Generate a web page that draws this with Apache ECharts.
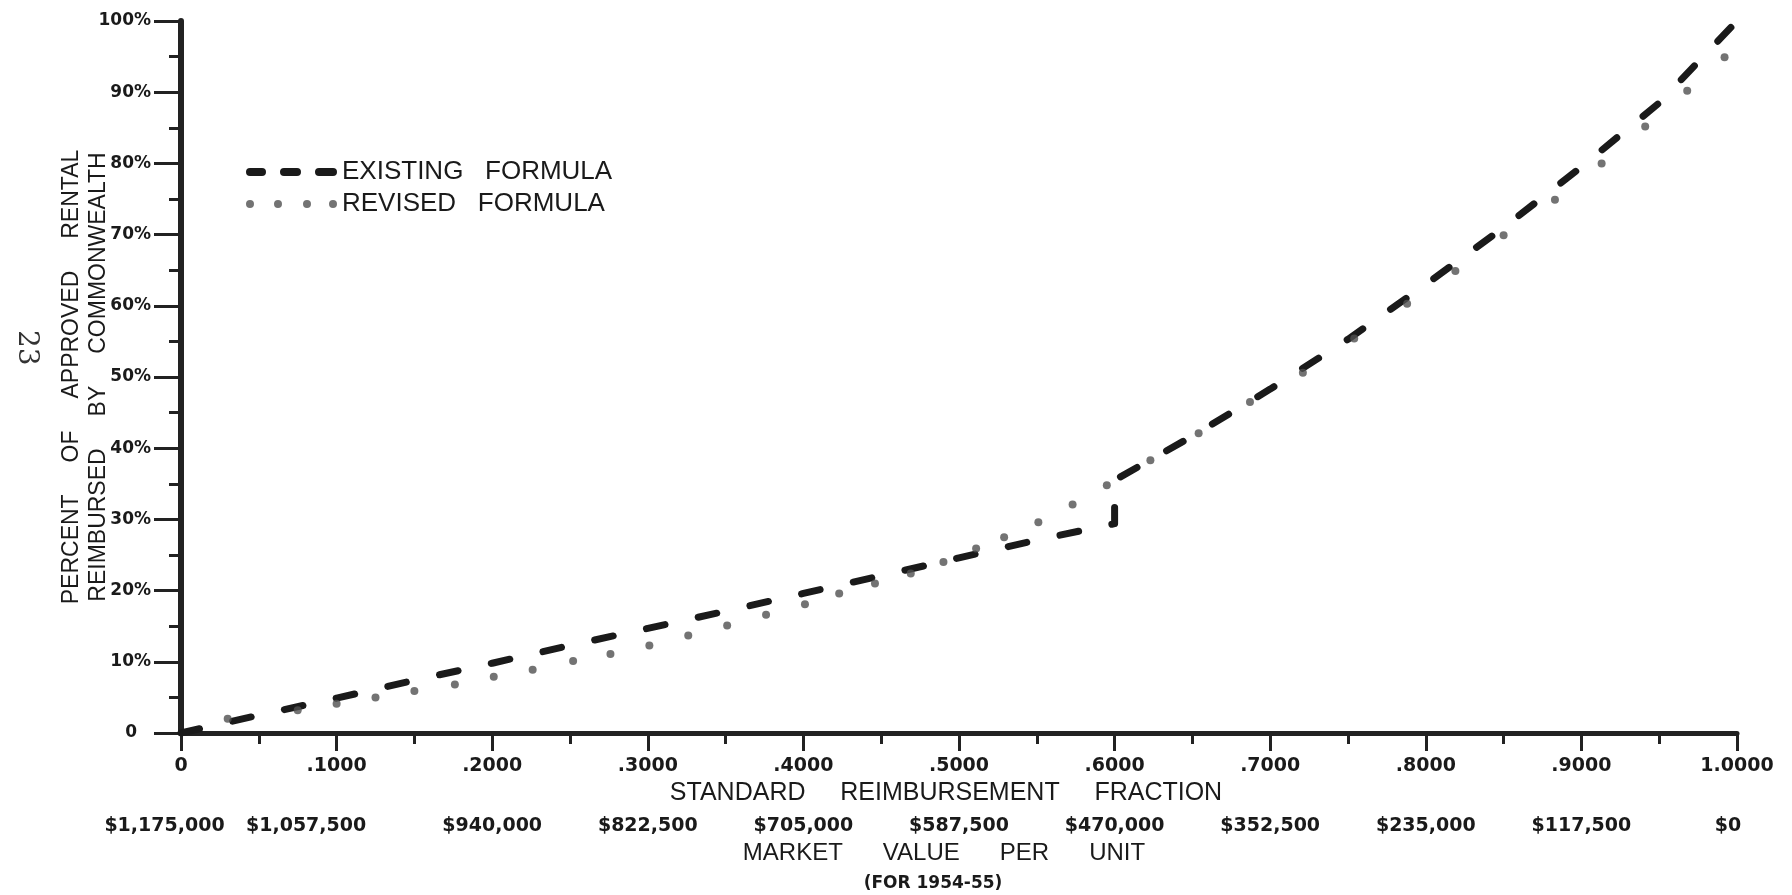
<!DOCTYPE html>
<html>
<head>
<meta charset="utf-8">
<script src="https://cdn.jsdelivr.net/npm/echarts@6/dist/echarts.min.js"></script>
<style>
html,body{margin:0;padding:0;background:#ffffff;}
#chart{width:1792px;height:895px;}
</style>
</head>
<body>
<div id="chart"></div>
<script>
// ---- tick labels ----
const fractionTickLabels = ['0', '.1000', '.2000', '.3000', '.4000', '.5000', '.6000', '.7000', '.8000', '.9000', '1.0000'];
const marketValueTickLabels = ['$1,175,000', '$1,057,500', '$940,000', '$822,500', '$705,000', '$587,500', '$470,000', '$352,500', '$235,000', '$117,500', '$0'];
const percentTickLabels = ['0', '10%', '20%', '30%', '40%', '50%', '60%', '70%', '80%', '90%', '100%'];

// ---- series names ----
const existingName = 'EXISTING   FORMULA';
const revisedName = 'REVISED   FORMULA';

// ---- Existing formula (dashed line) ----
const existingFraction = [0, 0.05, 0.10, 0.15, 0.20, 0.25, 0.30, 0.35, 0.40, 0.45, 0.50, 0.55, 0.60, 0.60, 0.65, 0.70, 0.75, 0.80, 0.85, 0.90, 0.95, 1.00];
const existingPercent  = [0, 2.5, 4.9, 7.4, 9.8, 12.3, 14.7, 17.1, 19.6, 22.1, 24.6, 27.1, 29.4, 35.5, 41.7, 48.3, 55.3, 63.0, 71.0, 79.5, 88.5, 100];

// ---- Revised formula (dots) ----
const revisedFraction = [0.030, 0.075, 0.100, 0.125, 0.150, 0.176, 0.201, 0.226, 0.252, 0.276, 0.301, 0.326, 0.351, 0.376, 0.401, 0.423, 0.446, 0.469, 0.490, 0.511, 0.529, 0.551, 0.573, 0.595, 0.623, 0.654, 0.687, 0.721, 0.754, 0.788, 0.819, 0.850, 0.883, 0.913, 0.941, 0.968, 0.992];
const revisedPercent  = [2.0, 3.2, 4.1, 5.0, 5.9, 6.8, 7.9, 8.9, 10.1, 11.1, 12.3, 13.7, 15.1, 16.6, 18.1, 19.6, 21.0, 22.4, 24.0, 25.9, 27.5, 29.6, 32.1, 34.8, 38.3, 42.1, 46.5, 50.6, 55.4, 60.3, 64.9, 69.9, 74.9, 80.0, 85.2, 90.2, 94.9];

const INK = '#1a1a1a';
const FONT = "'Liberation Sans', Arial, sans-serif";
const TICKFONT = "'DejaVu Sans', 'Liberation Sans', sans-serif";

const chart = echarts.init(document.getElementById('chart'), null, {renderer: 'canvas'});

const option = {
  backgroundColor: '#ffffff',
  animation: false,
  grid: {left: 181, right: 55, top: 21, bottom: 162, containLabel: false, outerBoundsMode: 'none'},
  legend: {
    orient: 'vertical',
    left: 241,
    top: 154,
    itemWidth: 91,
    itemHeight: 8,
    itemGap: 6,
    itemStyle: {borderWidth: 0},
    textStyle: {fontFamily: FONT, fontSize: 26, color: INK},
    data: [
      {name: existingName, icon: 'path://M4,0 L16,0 A4,4 0 0 1 16,8 L4,8 A4,4 0 0 1 4,0 Z M38,0 L51,0 A4,4 0 0 1 51,8 L38,8 A4,4 0 0 1 38,0 Z M73,0 L87,0 A4,4 0 0 1 87,8 L73,8 A4,4 0 0 1 73,0 Z'},
      {name: revisedName, icon: 'path://M0,4 A4,4 0 1 0 8,4 A4,4 0 1 0 0,4 Z M28,4 A4,4 0 1 0 36,4 A4,4 0 1 0 28,4 Z M57,4 A4,4 0 1 0 65,4 A4,4 0 1 0 57,4 Z M83,4 A4,4 0 1 0 91,4 A4,4 0 1 0 83,4 Z'}
    ]
  },
  xAxis: [
    {
      type: 'value', min: 0, max: 1, interval: 0.1, position: 'bottom',
      name: 'STANDARD     REIMBURSEMENT     FRACTION',
      nameLocation: 'middle', nameGap: 46,
      nameTextStyle: {fontFamily: FONT, fontSize: 25, color: INK, padding: [0, 26, 0, 0]},
      axisLine: {show: true, onZero: false, lineStyle: {color: '#222222', width: 5}},
      axisTick: {show: true, length: 18, lineStyle: {color: '#222222', width: 3}},
      minorTick: {show: true, splitNumber: 2, length: 11, lineStyle: {color: '#222222', width: 3}},
      splitLine: {show: false},
      minorSplitLine: {show: false},
      axisLabel: {
        margin: 24, fontFamily: TICKFONT, fontSize: 19, fontWeight: 'bold', color: INK,
        showMinLabel: true, showMaxLabel: true,
        formatter: function (v) { return fractionTickLabels[Math.round(v * 10)]; }
      }
    },
    {
      type: 'value', min: 0, max: 1, interval: 0.1, position: 'bottom', offset: 60,
      name: '{a|MARKET      VALUE      PER      UNIT}\n{b|(FOR 1954-55)}',
      nameLocation: 'middle', nameGap: 45,
      nameTextStyle: {
        fontFamily: FONT, color: INK,
        rich: {
          a: {fontFamily: FONT, fontSize: 24, color: INK, lineHeight: 28, padding: [0, 30, 0, 0]},
          b: {fontFamily: TICKFONT, fontSize: 17, fontWeight: 'bold', color: INK, lineHeight: 34, padding: [0, 52, 0, 0]}
        }
      },
      axisLine: {show: false},
      axisTick: {show: false},
      splitLine: {show: false},
      axisLabel: {
        margin: 24, fontFamily: TICKFONT, fontSize: 19, fontWeight: 'bold', color: INK,
        showMinLabel: true, showMaxLabel: true,
        formatter: function (v) {
          const i = Math.round(v * 10);
          if (i === 0) return '{l0|' + marketValueTickLabels[i] + '}';
          if (i === 1) return '{l1|' + marketValueTickLabels[i] + '}';
          if (i === 10) return '{l10|' + marketValueTickLabels[i] + '}';
          return marketValueTickLabels[i];
        },
        rich: {
          l0: {fontFamily: TICKFONT, fontSize: 19, fontWeight: 'bold', color: INK, padding: [0, 33, 0, 0]},
          l1: {fontFamily: TICKFONT, fontSize: 19, fontWeight: 'bold', color: INK, padding: [0, 61, 0, 0]},
          l10: {fontFamily: TICKFONT, fontSize: 19, fontWeight: 'bold', color: INK, padding: [0, 18, 0, 0]}
        }
      }
    }
  ],
  yAxis: {
    type: 'value', min: 0, max: 100, interval: 10,
    name: 'PERCENT     OF     APPROVED     RENTAL\nREIMBURSED     BY     COMMONWEALTH',
    nameLocation: 'middle', nameGap: 69, nameRotate: 90, nameMoveOverlap: false,
    nameTextStyle: {fontFamily: FONT, fontSize: 23, color: INK, lineHeight: 27},
    axisLine: {show: true, lineStyle: {color: '#222222', width: 6}},
    axisTick: {show: true, length: 27, lineStyle: {color: '#222222', width: 3}},
    minorTick: {show: true, splitNumber: 2, length: 12, lineStyle: {color: '#222222', width: 3}},
    splitLine: {show: false},
    minorSplitLine: {show: false},
    axisLabel: {
      margin: 30, fontFamily: TICKFONT, fontSize: 17, fontWeight: 'bold', color: INK,
      showMinLabel: true, showMaxLabel: true,
      formatter: function (v) {
        const i = Math.round(v / 10);
        return i === 0 ? '{z|' + percentTickLabels[i] + '}' : percentTickLabels[i];
      },
      rich: {
        z: {fontFamily: TICKFONT, fontSize: 17, fontWeight: 'bold', color: INK, padding: [0, 14, 0, 0]}
      }
    }
  },
  graphic: [
    {
      type: 'text', left: 12, top: 330, rotation: -Math.PI / 2,
      style: {text: '23', fontFamily: "'DejaVu Serif', serif", fontSize: 28, fill: '#333333'}
    }
  ],
  series: [
    {
      name: existingName,
      type: 'line',
      xAxisIndex: 0,
      data: existingFraction.map(function (f, i) { return [f, existingPercent[i]]; }),
      showSymbol: false,
      symbol: 'none',
      color: INK,
      lineStyle: {color: INK, width: 7, type: [19, 34], cap: 'round', join: 'round'},
      z: 3
    },
    {
      name: revisedName,
      type: 'scatter',
      xAxisIndex: 0,
      data: revisedFraction.map(function (f, i) { return [f, revisedPercent[i]]; }),
      symbol: 'circle',
      symbolSize: 8,
      color: '#505050',
      itemStyle: {color: '#505050'},
      z: 4
    }
  ]
};

chart.setOption(option);
</script>
</body>
</html>
